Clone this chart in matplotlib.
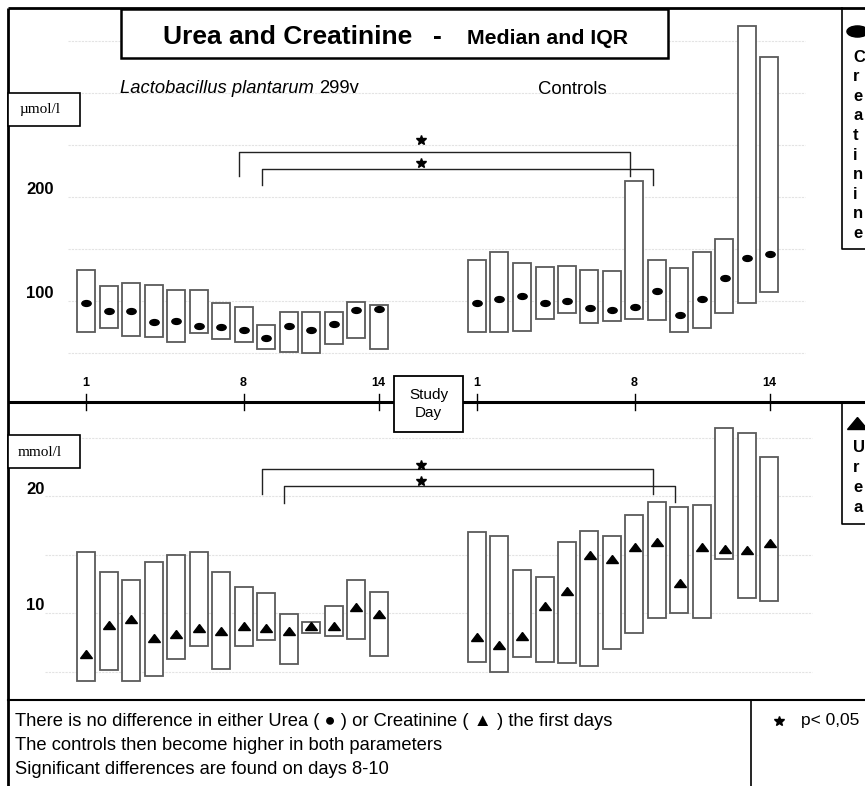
import matplotlib
matplotlib.use('Agg')
import matplotlib.pyplot as plt
from matplotlib.markers import MarkerStyle
from matplotlib.transforms import Affine2D, blended_transform_factory, offset_copy
from matplotlib.patches import Rectangle

plt.rcParams['font.family'] = ['Liberation Sans', 'DejaVu Sans']

# ---------------- data ----------------
days = list(range(1, 15))
day_ticks = [1, 8, 14]
creat_ticks = [100, 200]
urea_ticks = [10, 20]
creat_grid = [50, 100, 150, 200, 250, 300, 350]
urea_grid = [5, 10, 15, 20, 25]

# Creatinine (umol/l) - Lactobacillus plantarum 299v
creat_lp_median = [98, 90.4, 90.4, 79.8, 81.1, 76, 75, 71.8, 64.7, 75.6, 71.8, 77.6, 91, 92.6]
creat_lp_q1 = [70.2, 74, 66.6, 65.7, 60.9, 68.9, 63.2, 60.9, 53.8, 51.3, 49.7, 58.4, 64.1, 53.8]
creat_lp_q3 = [129.8, 114.4, 117.6, 115, 110.3, 110.3, 98.4, 94.5, 76.6, 89.1, 89.1, 89.1, 99.3, 95.9]
# Creatinine - Controls
creat_ctrl_median = [98.1, 101.9, 104.8, 98.1, 100, 93.6, 91, 94.5, 109.9, 86.5, 101.9, 122.4, 141.3, 144.9]
creat_ctrl_q1 = [70.5, 70.5, 71.5, 82.7, 88.2, 78.5, 80.5, 82.7, 81.4, 69.9, 73.7, 88.2, 98.1, 108.7]
creat_ctrl_q3 = [139.1, 146.8, 136.8, 132.4, 133.3, 129.5, 128.5, 215.4, 139.1, 131.7, 146.8, 159.3, 364.7, 334.6]

# Urea (mmol/l) - Lactobacillus plantarum 299v
urea_lp_median = [6.5, 9.0, 9.5, 7.9, 8.2, 8.7, 8.5, 8.9, 8.7, 8.5, 8.9, 8.9, 10.5, 9.9]
urea_lp_q1 = [4.2, 5.1, 4.2, 4.6, 6.1, 7.2, 5.2, 7.2, 7.7, 5.6, 8.3, 8.0, 7.8, 6.3]
urea_lp_q3 = [15.2, 13.5, 12.8, 14.4, 15.0, 15.2, 13.5, 12.2, 11.7, 9.9, 9.2, 10.6, 12.8, 11.8]
# Urea - Controls
urea_ctrl_median = [7.95, 7.3, 8.0, 10.6, 11.9, 15.0, 14.6, 15.6, 16.1, 12.6, 15.6, 15.5, 15.4, 16.0]
urea_ctrl_q1 = [5.8, 5.0, 6.2, 5.8, 5.7, 5.5, 6.9, 8.3, 9.6, 10.0, 9.6, 14.6, 11.3, 11.0]
urea_ctrl_q3 = [16.9, 16.6, 13.7, 13.1, 16.1, 17.0, 16.6, 18.35, 19.5, 19.1, 19.2, 25.8, 25.4, 23.3]

# significance brackets: (LP day, control day, bar level, leg end left, leg end right, star level)
creat_sig = [(8, 8, 243.3, 220.2, 220.2, 254.8), (9, 9, 226.9, 211.5, 211.5, 232.7)]
urea_sig = [(9, 9, 22.31, 20.17, 20.17, 22.65), (10, 10, 20.85, 19.4, 19.49, 21.28)]

notes = ["There is no difference in either Urea ( \u25CF ) or Creatinine ( \u25B2 ) the first days",
         "The controls then become higher in both parameters",
         "Significant differences are found on days 8-10"]

# ---------------- layout ----------------
W, H = 865, 786
fig = plt.figure(figsize=(W / 100, H / 100), dpi=100)
bg = fig.add_axes([0, 0, 1, 1])
bg.set_xlim(0, W)
bg.set_ylim(H, 0)
bg.axis('off')
bg.set_zorder(10)


def axes_px(x0, y0, x1, y1):
    a = fig.add_axes([x0 / W, 1 - y1 / H, (x1 - x0) / W, (y1 - y0) / H])
    a.patch.set_alpha(0)
    a.axis('off')
    return a


SP = 22.5          # px per day
X0 = 86            # px of LP day 1
CTRL_OFF = (477 - X0) / SP
XLIM = (1 - X0 / SP, 1 + (W - X0) / SP)

ax_top = axes_px(0, 0, W, 402)
ax_top.set_xlim(*XLIM)
ax_top.set_ylim((405 - 402) / 1.04, 405 / 1.04)
ax_bot = axes_px(0, 402, W, 700)
ax_bot.set_xlim(*XLIM)
ax_bot.set_ylim((730 - 700) / 11.7, (730 - 402) / 11.7)

x_lp = [d for d in days]
x_ctrl = [d + CTRL_OFF for d in days]

ell = MarkerStyle('o', transform=Affine2D().scale(1.6, 1.0))
tri = MarkerStyle('^', transform=Affine2D().scale(1.0, 0.75))
box_ec = '#5a5a5a'
grid_c = '#e3e3e3'


def px2x(px):
    return (px - X0) / SP + 1


def panel(ax, grid, lp_q1, lp_q3, lp_med, c_q1, c_q3, c_med, marker, ms, gx0, gx1, sig):
    ax.hlines(grid, px2x(gx0), px2x(gx1), colors=grid_c, lw=0.8, linestyles=(0, (2, 1)), zorder=1)
    for xs, q1, q3, med in ((x_lp, lp_q1, lp_q3, lp_med), (x_ctrl, c_q1, c_q3, c_med)):
        ax.bar(xs, [b - a for a, b in zip(q1, q3)], bottom=q1, width=0.8,
               facecolor='white', edgecolor=box_ec, linewidth=1.3, zorder=2)
        ax.plot(xs, med, linestyle='none', marker=marker, ms=ms, color='black', zorder=3)
    for d_lp, d_c, lev, l1, l2, sl in sig:
        xa, xb = d_lp - 0.2, d_c + CTRL_OFF - 0.2
        ax.plot([xa, xa, xb, xb], [l1, lev, lev, l2], color='#222222', lw=1.0, zorder=3)
        ax.plot([px2x(421)], [sl], marker='*', ms=7, color='black', linestyle='none', zorder=3)


panel(ax_top, creat_grid, creat_lp_q1, creat_lp_q3, creat_lp_median,
      creat_ctrl_q1, creat_ctrl_q3, creat_ctrl_median, ell, 4.2, 68, 805, creat_sig)
panel(ax_bot, urea_grid, urea_lp_q1, urea_lp_q3, urea_lp_median,
      urea_ctrl_q1, urea_ctrl_q3, urea_ctrl_median, tri, 8, 45, 812, urea_sig)

# y labels
for ax, ticks in ((ax_top, creat_ticks), (ax_bot, urea_ticks)):
    tr = offset_copy(blended_transform_factory(bg.transData, ax.transData), fig=fig, y=7, units='dots')
    for t in ticks:
        ax.text(26, t, str(t), transform=tr, fontsize=12, fontweight='bold', ha='left', va='center')

# day axis
bg.plot([8, W], [402, 402], color='black', lw=2.2, solid_capstyle='butt', zorder=2)
trd = blended_transform_factory(ax_top.transData, bg.transData)
for xs_off in (0, CTRL_OFF):
    for d in day_ticks:
        ax_top.plot([d + xs_off, d + xs_off], [394, 410], transform=trd, color='black', lw=1.0, clip_on=False)
        ax_top.text(d + xs_off, 383, str(d), transform=trd, fontsize=9, fontweight='bold',
                    ha='center', va='center', clip_on=False)

bg.add_patch(Rectangle((394, 376), 69, 56, facecolor='white', edgecolor='black', lw=1.3, zorder=5))
bg.text(428.5, 404, "Study\nDay", ha='center', va='center', fontsize=11, linespacing=1.35, zorder=6)

# frame
bg.plot([8, 8], [8, H], color='black', lw=2, solid_capstyle='butt')
bg.plot([8, W], [8, 8], color='black', lw=2, solid_capstyle='butt')

# title box
bg.add_patch(Rectangle((121, 9), 547, 49, facecolor='white', edgecolor='black', lw=1.8, zorder=4))
bg.text(163, 44, "Urea and Creatinine", fontsize=19, fontweight='bold', va='baseline', ha='left', zorder=5)
bg.text(437, 44, "-", fontsize=19, fontweight='bold', va='baseline', ha='center', zorder=5)
bg.text(467, 44, "Median and IQR", fontsize=15.3, fontweight='bold', va='baseline', ha='left', zorder=5)

# group labels
bg.text(120, 93, "Lactobacillus plantarum", fontsize=13.2, style='italic', va='baseline', ha='left')
bg.text(319, 93, "299v", fontsize=13.2, va='baseline', ha='left')
bg.text(538, 94, "Controls", fontsize=13.3, va='baseline', ha='left')

# unit boxes
for (y0, lab) in ((93, "\u00b5mol/l"), (435, "mmol/l")):
    bg.add_patch(Rectangle((8, y0), 72, 33, facecolor='white', edgecolor='black', lw=1.2, zorder=4))
    bg.text(40, y0 + 17, lab, family=['Liberation Serif', 'DejaVu Serif'], fontsize=11,
            ha='center', va='center', zorder=5)

# right legend boxes
bg.plot([842, 842, W], [8, 249, 249], color='black', lw=1.2)
bg.plot([857], [31], marker=MarkerStyle('o', transform=Affine2D().scale(1.9, 1.0)), ms=8, color='black')
for i, ch in enumerate("Creatinine"):
    bg.text(853, 57 + i * 19.6, ch, fontsize=12, fontweight='bold', ha='left', va='center')
bg.plot([842, 842, W], [402, 524, 524], color='black', lw=1.2)
bg.plot([857], [423], marker=MarkerStyle('^', transform=Affine2D().scale(1.6, 0.9)), ms=9, color='black')
for i, ch in enumerate("Urea"):
    bg.text(853, 447 + i * 20, ch, fontsize=12, fontweight='bold', ha='left', va='center')

# notes box
bg.plot([8, W], [700, 700], color='black', lw=1.5)
bg.plot([751, 751], [700, H], color='black', lw=1.2)
for i, line in enumerate(notes):
    bg.text(15, 721 + i * 24, line, fontsize=13.2, ha='left', va='center')
bg.plot([779], [721], marker='*', ms=7, color='black')
bg.text(801, 721, "p< 0,05", fontsize=12.5, ha='left', va='center')

fig.savefig('out.png', dpi=100)
